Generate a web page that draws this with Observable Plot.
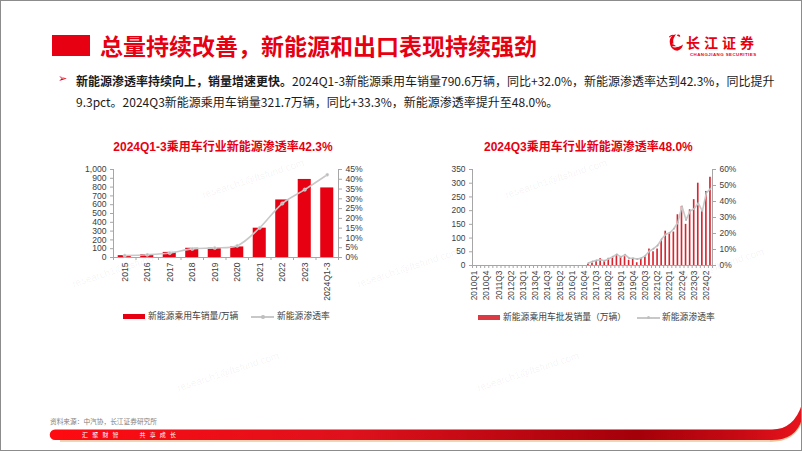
<!DOCTYPE html>
<html><head><meta charset="utf-8">
<script src="https://cdn.jsdelivr.net/npm/d3@7"></script>
<script src="https://cdn.jsdelivr.net/npm/@observablehq/plot@0.6"></script>
<style>
html,body{margin:0;padding:0;background:#fff;}
#page{position:relative;width:802px;height:451px;overflow:hidden;background:#fff;font-family:"Noto Sans CJK SC","Liberation Sans",sans-serif;}
.abs{position:absolute;}
.frame{position:absolute;left:0;top:0;width:802px;height:451px;box-sizing:border-box;border:1px solid #8c8c8c;pointer-events:none;}
.ctitle{position:absolute;color:#e60012;font-weight:700;font-size:12px;line-height:16px;text-align:center;white-space:nowrap;font-family:"Liberation Sans","Noto Sans CJK SC",sans-serif;}
.leg{position:absolute;font-size:8.8px;line-height:12px;color:#404040;white-space:nowrap;font-family:"Liberation Sans","Noto Sans CJK SC",sans-serif;}
.wm{position:absolute;font-family:"Liberation Sans",sans-serif;font-size:10px;color:rgba(0,0,0,0.055);transform:rotate(-18deg);white-space:nowrap;}
.chart svg{position:absolute;left:0;top:0;}
</style></head>
<body>
<div id="page">
  <!-- header -->
  <div class="abs" style="left:52px;top:35px;width:38px;height:21px;background:#e60012;"></div>
  <div class="abs" style="left:100px;top:29px;font-size:23px;line-height:32px;font-weight:700;color:#e60012;white-space:nowrap;">总量持续改善，新能源和出口表现持续强劲</div>
  <svg class="abs" style="left:667px;top:33px" width="18" height="19" viewBox="0 0 26 28">
    <path d="M13 2 C6 3 3 9 4 15 C5 22 10 26 15 26 C20 25 23 21 23 17 C18 22 10 20 9 14 C8 9 11 5 13 2 Z" fill="#e60012"/>
    <path d="M8 16 C12 17 17 16 21 13" stroke="#fff" stroke-width="1.5" fill="none"/>
    <path d="M8 20 C12 21 17 20 21 17" stroke="#fff" stroke-width="1.5" fill="none"/>
    <path d="M14 3 C17 1 20 3 19 6 C17 5 15 5 14 3 Z" fill="#e60012"/>
    <path d="M3 6 C6 3 9 3 11 4" stroke="#e60012" stroke-width="1.5" fill="none"/>
  </svg>
  <div class="abs" style="left:686px;top:35px;font-size:14px;line-height:14px;height:14px;font-weight:700;color:#e60012;letter-spacing:4px;white-space:nowrap;">长江证券</div>
  <div class="abs" style="left:690px;top:52.5px;font-size:4.4px;line-height:4.5px;font-weight:700;color:#e60012;letter-spacing:0.45px;white-space:nowrap;font-family:'Liberation Sans',sans-serif;">CHANGJIANG SECURITIES</div>

  <div class="abs" style="left:58px;top:70px;font-size:11px;line-height:18px;color:#e60012;font-family:'DejaVu Sans',sans-serif;">➢</div>
  <div class="abs" style="left:76px;top:70px;font-size:12px;line-height:21px;color:#1a1a1a;white-space:nowrap;"><b>新能源渗透率持续向上，销量增速更快。</b>2024Q1-3新能源乘用车销量790.6万辆，同比+32.0%，新能源渗透率达到42.3%，同比提升<br>9.3pct。2024Q3新能源乘用车销量321.7万辆，同比+33.3%，新能源渗透率提升至48.0%。</div>

  <!-- watermarks -->
  <div class="wm" style="left:200px;top:173px;">research1@ftsfund.com</div>
  <div class="wm" style="left:503px;top:173px;">research1@ftsfund.com</div>
  <div class="wm" style="left:355px;top:262px;">research1@ftsfund.com</div>
  <div class="wm" style="left:70px;top:262px;">research1@ftsfund.com</div>
  <div class="wm" style="left:660px;top:262px;">research1@ftsfund.com</div>
  <div class="wm" style="left:175px;top:366px;">research1@ftsfund.com</div>
  <div class="wm" style="left:475px;top:366px;">research1@ftsfund.com</div>

  <!-- chart titles -->
  <div class="ctitle" style="left:100px;top:139px;width:246px;">2024Q1-3乘用车行业新能源渗透率42.3%</div>
  <div class="ctitle" style="left:484px;top:139px;width:200px;">2024Q3乘用车行业新能源渗透率48.0%</div>

  <div id="c1" class="chart abs" style="left:60px;top:160px;width:320px;height:142px;"></div>
  <div id="c2" class="chart abs" style="left:420px;top:160px;width:340px;height:145px;"></div>

  <!-- legends -->
  <div class="abs" style="left:123px;top:314px;width:22px;height:5px;background:#e60012;"></div>
  <div class="leg" style="left:148px;top:310px;">新能源乘用车销量/万辆</div>
  <div class="abs" style="left:251px;top:316px;width:23px;height:1.5px;background:#c8c8c8;"></div>
  <div class="abs" style="left:261px;top:315px;width:3.5px;height:3.5px;border-radius:50%;background:#bfbfbf;"></div>
  <div class="leg" style="left:277px;top:310px;">新能源渗透率</div>

  <div class="abs" style="left:478px;top:315px;width:22px;height:5px;background:#dc3a42;"></div>
  <div class="leg" style="left:503px;top:311px;">新能源乘用车批发销量（万辆）</div>
  <div class="abs" style="left:637px;top:317px;width:23px;height:1.5px;background:#c8c8c8;"></div>
  <div class="abs" style="left:647px;top:316px;width:3px;height:3px;border-radius:50%;background:#bfbfbf;"></div>
  <div class="leg" style="left:662px;top:311px;">新能源渗透率</div>

  <!-- footer -->
  <div class="abs" style="left:50px;top:417px;font-size:6.7px;line-height:9px;color:#7f7f7f;white-space:nowrap;">资料来源：中汽协，长江证券研究所</div>
  <svg class="abs" style="left:0;top:0" width="802" height="451">
    <defs>
      <linearGradient id="fg" x1="0" x2="1" y1="0" y2="0">
        <stop offset="0" stop-color="#ff0a10"/>
        <stop offset="0.4" stop-color="#de111c"/>
        <stop offset="0.78" stop-color="#a4000a"/>
        <stop offset="0.92" stop-color="#c80a14"/>
        <stop offset="1" stop-color="#e8141c"/>
      </linearGradient>
    </defs>
    <path d="M770 441 Q796 441 802 419" stroke="#f3c49a" stroke-width="2" fill="none"/>
    <line x1="60" y1="441" x2="770" y2="441" stroke="#f3c49a" stroke-width="1.6"/>
    <path d="M55 429.5 L772 429.5 Q794 429.5 802 404 L802 419 Q796 440 772 440 L55 440 A5.25 5.25 0 0 1 55 429.5 Z" fill="url(#fg)"/>
  </svg>
  <div class="abs" style="left:82px;top:430.5px;font-size:6px;line-height:8px;color:#fff;letter-spacing:4.2px;white-space:nowrap;">汇聚财智&nbsp;&nbsp;&nbsp;共享成长</div>

  <div class="frame"></div>
</div>

<script>
// ---------- Left chart data ----------
const years = ["2015","2016","2017","2018","2019","2020","2021","2022","2023","2024Q1-3"];
const nevSales = [21, 34, 58, 105, 106, 120, 333, 654, 887, 790.6];      // 万辆
const nevPenetration = [1.0, 1.4, 2.3, 4.4, 4.9, 6.0, 15.2, 27.6, 34.7, 42.3]; // %
const leftTicks = [0,100,200,300,400,500,600,700,800,900,1000];
const rightTicks1 = [0,5,10,15,20,25,30,35,40,45];

// ---------- Right chart data ----------
const quarters = [
 "2010Q1","2010Q2","2010Q3","2010Q4","2011Q1","2011Q2","2011Q3","2011Q4",
 "2012Q1","2012Q2","2012Q3","2012Q4","2013Q1","2013Q2","2013Q3","2013Q4",
 "2014Q1","2014Q2","2014Q3","2014Q4","2015Q1","2015Q2","2015Q3","2015Q4",
 "2016Q1","2016Q2","2016Q3","2016Q4","2017Q1","2017Q2","2017Q3","2017Q4",
 "2018Q1","2018Q2","2018Q3","2018Q4","2019Q1","2019Q2","2019Q3","2019Q4",
 "2020Q1","2020Q2","2020Q3","2020Q4","2021Q1","2021Q2","2021Q3","2021Q4",
 "2022Q1","2022Q2","2022Q3","2022Q4","2023Q1","2023Q2","2023Q3","2023Q4",
 "2024Q1","2024Q2","2024Q3"];
const wholesale = [
 null,null,null,null,null,null,null,null,
 null,null,null,null,null,null,null,null,
 null,null,null,null,null,null,null,null,
 null,null,null,null,5,9,15,25,
 14,26,28,37,29,32,19,26,
 10,22,32,60,50,60,92,125,
 118,122,185,215,150,203,240,300,
 198,270,321.7];
const penetrationQ = [
 null,null,null,null,null,null,null,null,
 null,null,null,null,null,null,null,null,
 null,null,null,null,null,null,null,null,
 null,null,null,null,1.5,2.5,3.2,3.6,
 3.0,4.2,5.5,7.0,5.3,6.8,4.6,4.5,
 4.0,4.6,6.2,9.0,10.5,12.5,16.5,19.5,
 20.5,23.0,27.0,37.0,28.5,34.0,35.5,39.0,
 34.0,45.5,48.0];
const labeledQuarters = ["2010Q1","2010Q4","2011Q3","2012Q2","2013Q1","2013Q4","2014Q3","2015Q2","2016Q1","2016Q4",
 "2017Q3","2018Q2","2019Q1","2019Q4","2020Q3","2021Q2","2022Q1","2022Q4","2023Q3","2024Q2"];
const leftTicks2 = [0,50,100,150,200,250,300,350];
const rightTicks2 = [0,10,20,30,40,50,60];

const FONT = "'Liberation Sans','Noto Sans CJK SC',sans-serif";
const AX = "#a6a6a6", TXT = "#404040";

// ---------- Left chart ----------
{
  const W = 320, H = 142, m = {left:53, right:42, top:9, bottom:45};
  const n = years.length;
  const data = years.map((c, i) => ({i, c, v: nevSales[i], p: nevPenetration[i]}));
  const common = {width: W, height: H, marginLeft: m.left, marginRight: m.right, marginTop: m.top, marginBottom: m.bottom};
  const style = {fontSize: "8.6px", fontFamily: FONT, color: TXT, background: "transparent", overflow: "visible"};
  const bars = Plot.plot({
    ...common, style,
    x: {type: "linear", domain: [-0.5, n - 0.5]},
    y: {domain: [0, 1000]},
    marks: [
      Plot.rectY(data, {x1: d => d.i - 0.29, x2: d => d.i + 0.29, y: "v", fill: "#e60012"}),
      Plot.ruleY([0], {stroke: AX}),
      Plot.ruleX([-0.5], {stroke: AX}),
      Plot.axisY({ticks: leftTicks, tickFormat: d3.format(","), tickSize: 3, tickPadding: 4, stroke: AX, fill: TXT, label: null}),
      Plot.axisX({ticks: d3.range(n + 1).map(i => i - 0.5), tickFormat: () => "", tickSize: 3, stroke: AX, label: null}),
      Plot.axisX({ticks: d3.range(n), tickFormat: i => years[i], tickSize: 0, tickPadding: 5, tickRotate: -90, fill: TXT, label: null})
    ]
  });
  const line = Plot.plot({
    ...common, style,
    x: {type: "linear", domain: [-0.5, n - 0.5], axis: null},
    y: {domain: [0, 45], axis: null},
    marks: [
      Plot.ruleX([n - 0.5], {stroke: AX}),
      Plot.axisY({anchor: "right", ticks: rightTicks1, tickFormat: d => d + "%", tickSize: 3, tickPadding: 4, stroke: AX, fill: TXT, label: null}),
      Plot.line(data, {x: "i", y: "p", stroke: "#c8c8c8", strokeWidth: 1.6, curve: "catmull-rom"}),
      Plot.dot(data, {x: "i", y: "p", r: 1.7, fill: "#bdbdbd", stroke: "#e8e8e8", strokeWidth: 0.5})
    ]
  });
  const c = document.getElementById("c1");
  c.appendChild(bars); c.appendChild(line);
}

// ---------- Right chart ----------
{
  const W = 340, H = 145, m = {left:52, right:48, top:9, bottom:40};
  const n = quarters.length;
  const data = quarters.map((q, i) => ({i, q, v: wholesale[i], p: penetrationQ[i]}));
  const barData = data.filter(d => d.v != null);
  const lineData = data.filter(d => d.p != null);
  const common = {width: W, height: H, marginLeft: m.left, marginRight: m.right, marginTop: m.top, marginBottom: m.bottom};
  const style = {fontSize: "8.4px", fontFamily: FONT, color: TXT, background: "transparent", overflow: "visible"};
  const labelIdx = labeledQuarters.map(q => quarters.indexOf(q));
  const bars = Plot.plot({
    ...common, style,
    x: {type: "linear", domain: [-0.5, n - 0.5]},
    y: {domain: [0, 350]},
    marks: [
      Plot.rectY(barData, {x1: d => d.i - 0.2, x2: d => d.i + 0.2, y: "v", fill: "#d9232d"}),
      Plot.ruleY([0], {stroke: AX}),
      Plot.ruleX([-0.5], {stroke: AX}),
      Plot.axisY({ticks: leftTicks2, tickSize: 3, tickPadding: 4, stroke: AX, fill: TXT, label: null}),
      Plot.axisX({ticks: d3.range(n + 1).map(i => i - 0.5), tickFormat: () => "", tickSize: 3, stroke: AX, label: null}),
      Plot.axisX({ticks: labelIdx, tickFormat: i => quarters[i], tickSize: 0, tickPadding: 5, tickRotate: -90, fill: TXT, label: null})
    ]
  });
  const line = Plot.plot({
    ...common, style,
    x: {type: "linear", domain: [-0.5, n - 0.5], axis: null},
    y: {domain: [0, 60], axis: null},
    marks: [
      Plot.ruleX([n - 0.5], {stroke: AX}),
      Plot.axisY({anchor: "right", ticks: rightTicks2, tickFormat: d => d + "%", tickSize: 3, tickPadding: 4, stroke: AX, fill: TXT, label: null}),
      Plot.line(lineData, {x: "i", y: "p", stroke: "#c8c8c8", strokeWidth: 1.6}),
      Plot.dot(lineData, {x: "i", y: "p", r: 0.9, fill: "#b5b5b5"})
    ]
  });
  const c = document.getElementById("c2");
  c.appendChild(bars); c.appendChild(line);
}
</script>
</body></html>
